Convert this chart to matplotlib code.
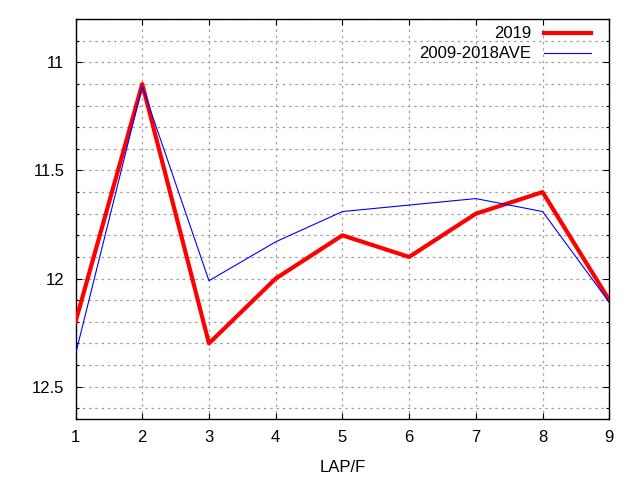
import matplotlib
matplotlib.use("Agg")
import matplotlib.pyplot as plt
from matplotlib.ticker import MultipleLocator

plt.rcParams["font.family"] = ["Liberation Sans", "DejaVu Sans"]

laps = [1, 2, 3, 4, 5, 6, 7, 8, 9]
times_2019 = [12.2, 11.1, 12.3, 12.0, 11.8, 11.9, 11.7, 11.6, 12.1]
times_ave = [12.35, 11.11, 12.01, 11.83, 11.69, 11.66, 11.63, 11.69, 12.11]

fig = plt.figure(figsize=(6.4, 4.8), dpi=100)
ax = fig.add_axes([0.118, 0.127, 0.834, 0.833])

ax.plot(laps, times_2019, color="#ff0000", linewidth=3.0, label="2019", zorder=3)
ax.plot(laps, times_ave, color="#0000ff", linewidth=0.8, label="2009-2018AVE", zorder=3)

ax.set_xlim(1, 9)
ax.set_ylim(12.65, 10.8)
ax.xaxis.set_major_locator(MultipleLocator(1))
ax.yaxis.set_major_locator(MultipleLocator(0.5))
ax.yaxis.set_minor_locator(MultipleLocator(0.1))
ax.yaxis.set_major_formatter(plt.FuncFormatter(lambda v, p: f"{v:g}"))

grid_kw = dict(color="#a0a0a0", linewidth=0.9, linestyle=(0, (2, 3)))
ax.grid(True, which="major", axis="x", **grid_kw)
ax.grid(True, which="both", axis="y", **grid_kw)

ax.tick_params(which="both", direction="in", top=True, right=True, width=0.8,
               labelsize=12, colors="black")
ax.tick_params(which="major", length=4.5, pad=8)
ax.tick_params(which="minor", length=2.5)
for s in ax.spines.values():
    s.set_linewidth(1.0)

ax.set_xlabel("LAP/F", fontsize=12, labelpad=11)

ax.legend(loc="upper right", bbox_to_anchor=(0.966, 0.982), frameon=False,
          markerfirst=False, fontsize=12, handlelength=2.8, handletextpad=0.8,
          labelspacing=0.3, borderpad=0, borderaxespad=0)

fig.savefig("out.png", dpi=100)
